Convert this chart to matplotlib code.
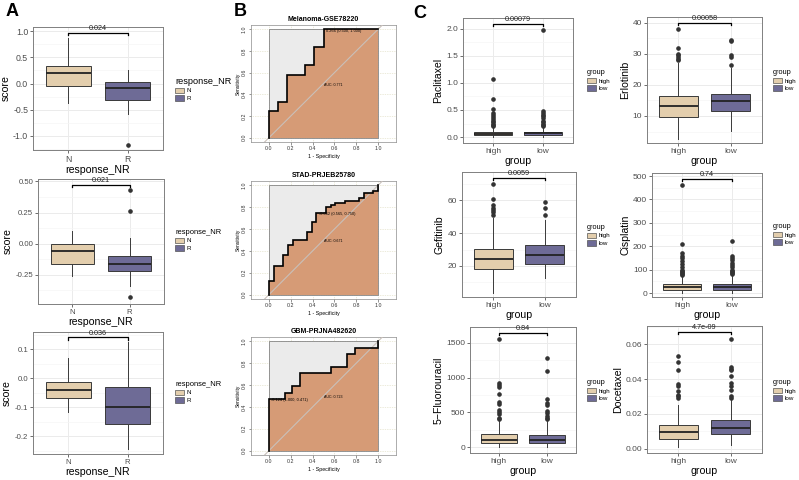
#!/usr/bin/env python3
"""Response score boxplots (A), ROC curves (B) and drug sensitivity boxplots (C)."""

import matplotlib
matplotlib.use("Agg")
import matplotlib.pyplot as plt
from matplotlib.patches import Patch, Polygon
from matplotlib.ticker import AutoMinorLocator, FormatStrFormatter

plt.rcParams['font.family'] = ['Liberation Sans', 'DejaVu Sans']

W, H = 799, 480
COL_1 = '#E3CEAD'   # N / high
COL_2 = '#6E6B96'   # R / low

# ---------------- data: panel A (whislo, q1, med, q3, whishi) ----------------
a_groups = ["N", "R"]
a_legend_title = "response_NR"
a1_N = [-0.38, -0.05, 0.20, 0.33, 0.87]
a1_R = [-0.59, -0.31, -0.08, 0.02, 0.25]
a1_N_out = []
a1_R_out = [-1.17]
a1_p = "0.024"

a2_N = [-0.26, -0.16, -0.06, 0.00, 0.10]
a2_R = [-0.34, -0.215, -0.16, -0.10, 0.05]
a2_N_out = []
a2_R_out = [0.43, 0.26, -0.43]
a2_p = "0.021"

a3_N = [-0.118, -0.07, -0.042, -0.015, 0.068]
a3_R = [-0.245, -0.16, -0.10, -0.03, 0.125]
a3_N_out = []
a3_R_out = []
a3_p = "0.036"

# ---------------- data: panel B (ROC steps, 1 - specificity / sensitivity) ----
b1_title = "Melanoma-GSE78220"
b1_fpr = [0.0, 0.083, 0.167, 0.333, 0.417, 0.5]
b1_tpr = [0.25, 0.333, 0.583, 0.667, 0.833, 1.0]
b1_auc = "AUC: 0.771"
b1_thr = "0.266 (0.500, 1.000)"
b1_thr_pt = (0.5, 1.0)

b2_title = "STAD-PRJEB25780"
b2_fpr = [0.0, 0.043, 0.130, 0.174, 0.217, 0.348, 0.391, 0.435,
          0.522, 0.565, 0.609, 0.696, 0.826, 0.870, 0.957, 1.0]
b2_tpr = [0.125, 0.26, 0.366, 0.45, 0.497, 0.573, 0.665, 0.75,
          0.80, 0.82, 0.84, 0.86, 0.88, 0.93, 0.95, 1.0]
b2_auc = "AUC: 0.671"
b2_thr = "-0.062 (0.565, 0.750)"
b2_thr_pt = (0.435, 0.75)

b3_title = "GBM-PRJNA482620"
b3_fpr = [0.0, 0.143, 0.214, 0.286, 0.571, 0.714, 0.786, 1.0]
b3_tpr = [0.471, 0.529, 0.588, 0.706, 0.765, 0.882, 0.941, 1.0]
b3_auc = "AUC: 0.723"
b3_thr = "-0.124 (1.000, 0.471)"
b3_thr_pt = (0.0, 0.471)

roc_ticks = [0.0, 0.2, 0.4, 0.6, 0.8, 1.0]

# ---------------- data: panel C (whislo, q1, med, q3, whishi) ----------------
c_groups = ["high", "low"]
c_legend_title = "group"

paclitaxel_high = [0.0, 0.03, 0.06, 0.10, 0.20]
paclitaxel_low = [0.0, 0.04, 0.07, 0.10, 0.18]
paclitaxel_high_out = [1.08, 0.71, 0.52, 0.45, 0.40, 0.37, 0.33, 0.30, 0.27, 0.25, 0.23, 0.21]
paclitaxel_low_out = [1.98, 0.48, 0.44, 0.40, 0.38, 0.35, 0.30, 0.27, 0.25, 0.22, 0.20]
paclitaxel_p = "0.00079"

erlotinib_high = [2.5, 9.6, 13.3, 16.6, 27.0]
erlotinib_low = [5.3, 11.5, 14.7, 17.2, 25.5]
erlotinib_high_out = [38.0, 31.8, 30.0, 29.5, 29.0, 28.5, 28.0]
erlotinib_low_out = [34.6, 34.2, 29.5, 29.0, 26.3]
erlotinib_p = "0.00058"

gefitinib_high = [3.5, 18.0, 24.5, 30.5, 49.0]
gefitinib_low = [13.0, 21.5, 26.5, 33.0, 48.0]
gefitinib_high_out = [70.0, 60.5, 57.0, 55.0, 54.0, 53.0, 51.0]
gefitinib_low_out = [59.0, 55.0, 51.0]
gefitinib_p = "0.0059"

cisplatin_high = [0.0, 14.0, 24.0, 38.0, 72.0]
cisplatin_low = [0.0, 14.0, 26.0, 38.0, 72.0]
cisplatin_high_out = [462, 210, 170, 160, 150, 135, 125, 110, 100, 95, 90, 85, 80, 75]
cisplatin_low_out = [222, 160, 150, 140, 130, 120, 110, 100, 95, 90, 85, 80]
cisplatin_p = "0.74"

fluorouracil_high = [0.0, 55.0, 100.0, 185.0, 390.0]
fluorouracil_low = [0.0, 55.0, 95.0, 170.0, 370.0]
fluorouracil_high_out = [1560, 920, 900, 870, 770, 650, 620, 530, 500, 470, 420, 400]
fluorouracil_low_out = [1280, 1100, 690, 640, 600, 520, 490, 450, 420, 400]
fluorouracil_p = "0.84"

docetaxel_high = [0.001, 0.0055, 0.0095, 0.0135, 0.025]
docetaxel_low = [0.0025, 0.0085, 0.0122, 0.0165, 0.028]
docetaxel_high_out = [0.053, 0.050, 0.045, 0.037, 0.036, 0.033, 0.031, 0.030, 0.029]
docetaxel_low_out = [0.063, 0.047, 0.046, 0.045, 0.042, 0.038, 0.036, 0.034, 0.030, 0.029]
docetaxel_p = "4.7e-09"


def rect(l, t, r, b):
    """pixel box -> figure fraction rect"""
    return [l / W, 1 - b / H, (r - l) / W, (b - t) / H]


def box_stats(five, out):
    return dict(whislo=five[0], q1=five[1], med=five[2], q3=five[3],
                whishi=five[4], fliers=out)


def gg_box(fig, box, stats, groups, ylim, yticks, fmt, xlabel, ylabel, pval,
           leg_title, leg_xy, leg_title_fs=5.3, tick_fs=6.0, title_fs=7.6):
    """ggplot theme_bw looking boxplot with a compare-means bracket"""
    ax = fig.add_axes(rect(*box))
    b = ax.bxp(stats, positions=[1, 2], widths=0.75, patch_artist=True,
               showcaps=False, manage_ticks=False, zorder=3,
               boxprops=dict(edgecolor='#3a3a3a', linewidth=0.7),
               whiskerprops=dict(color='#3a3a3a', linewidth=0.7),
               medianprops=dict(color='#222222', linewidth=1.3),
               flierprops=dict(marker='o', markersize=2.3,
                               markerfacecolor='#333333',
                               markeredgecolor='#333333'))
    for patch, c in zip(b['boxes'], [COL_1, COL_2]):
        patch.set_facecolor(c)
    ax.set_xlim(0.4, 2.6)
    ax.set_ylim(*ylim)
    ax.set_xticks([1, 2], groups)
    ax.set_yticks(yticks)
    ax.yaxis.set_major_formatter(FormatStrFormatter(fmt))
    ax.yaxis.set_minor_locator(AutoMinorLocator(2))
    ax.grid(True, which='major', color='#EBEBEB', lw=0.7)
    ax.grid(True, which='minor', axis='y', color='#F5F5F5', lw=0.5)
    ax.set_axisbelow(True)
    ax.tick_params(which='major', length=2, width=0.5, color='#333333',
                   labelsize=tick_fs, labelcolor='#4D4D4D', pad=1.5)
    ax.tick_params(which='minor', length=0)
    for s in ax.spines.values():
        s.set_color('#808080')
        s.set_linewidth(0.7)
    ax.set_xlabel(xlabel, fontsize=title_fs, labelpad=1)
    ax.set_ylabel(ylabel, fontsize=title_fs, labelpad=2)

    # bracket + p value
    yr = ylim[1] - ylim[0]
    yb = ylim[1] - 0.045 * yr
    ax.plot([1, 1, 2, 2], [yb - 0.02 * yr, yb, yb, yb - 0.02 * yr],
            color='black', lw=0.9, zorder=5, clip_on=False)
    ax.text(1.5, yb + 0.003 * yr, pval, ha='center', va='bottom',
            fontsize=5.2, color='#222222', zorder=5)

    handles = [Patch(facecolor=COL_1, edgecolor='#555555', lw=0.5, label=groups[0]),
               Patch(facecolor=COL_2, edgecolor='#555555', lw=0.5, label=groups[1])]
    ax.legend(handles=handles, title=leg_title, loc='center left',
              bbox_to_anchor=(leg_xy[0] / W, 1 - leg_xy[1] / H),
              bbox_transform=fig.transFigure, frameon=False, fontsize=4.5,
              title_fontproperties={'size': leg_title_fs}, handlelength=1.4,
              handleheight=0.9, handletextpad=0.5, labelspacing=0.3,
              borderpad=0, borderaxespad=0, alignment='left')
    return ax


def roc_panel(fig, box, fpr, tpr, title, auc_txt, thr_txt, thr_pt):
    """pROC style plot with AUC polygons"""
    ax = fig.add_axes(rect(*box))
    ax.set_xlim(-0.165, 1.165)
    ax.set_ylim(-0.04, 1.04)
    for t in roc_ticks:
        ax.axhline(t, color='#D9D6B5', lw=0.5, ls=(0, (1, 1.5)), zorder=0)
        ax.axvline(t, color='#D9D6B5', lw=0.5, ls=(0, (1, 1.5)), zorder=0)
    # max auc polygon
    ax.add_patch(Polygon([(0, 0), (0, 1), (1, 1), (1, 0)], closed=True,
                         fc='#EBEBEB', ec='#6f6f6f', lw=0.5, zorder=1))
    xs, ys = [0.0], [0.0]
    for x, y in zip(fpr, tpr):
        xs += [x, x]
        ys += [ys[-1], y]
    xs.append(1.0)
    ys.append(1.0)
    ax.add_patch(Polygon(list(zip(xs, ys)) + [(1.0, 0.0)], closed=True,
                         fc='#D69B76', ec='none', zorder=2))
    ax.plot([-0.3, 1.3], [-0.3, 1.3], color='#C9C0BA', lw=0.8, zorder=3)
    ax.plot(xs, ys, color='black', lw=1.2, zorder=4, solid_joinstyle='miter')
    ax.text(0.5, 0.49, auc_txt, fontsize=2.6, ha='left', va='center', zorder=5)
    ax.text(thr_pt[0] + 0.02, thr_pt[1] - 0.012, thr_txt, fontsize=2.8,
            ha='left', va='center', zorder=5)

    ax.set_xticks(roc_ticks, ['%.1f' % t for t in roc_ticks])
    ax.set_yticks(roc_ticks, ['%.1f' % t for t in roc_ticks])
    ax.tick_params(length=1.8, width=0.4, labelsize=3.8, pad=1.2,
                   color='#444444', labelcolor='#333333')
    for lab in ax.get_yticklabels():
        lab.set_rotation(90)
        lab.set_va('center')
    for s in ax.spines.values():
        s.set_color('#8c8c8c')
        s.set_linewidth(0.5)
    ax.set_title(title, fontsize=5, fontweight='bold', pad=3)
    ax.set_xlabel('1 - Specificity', fontsize=3.8, labelpad=2)
    ax.set_ylabel('Sensitivity', fontsize=3.5, labelpad=0.8)
    return ax


def main():
    fig = plt.figure(figsize=(W / 100, H / 100), dpi=100)

    # panel letters
    for lab, x, y in [('A', 12, 12), ('B', 240, 12), ('C', 420, 13)]:
        fig.text(x / W, 1 - y / H, lab, fontsize=13, fontweight='bold',
                 ha='center', va='center')

    # ---- A ----
    gg_box(fig, (33, 27, 163, 150),
           [box_stats(a1_N, a1_N_out), box_stats(a1_R, a1_R_out)], a_groups,
           (-1.27, 1.08), [-1.0, -0.5, 0.0, 0.5, 1.0], '%.1f',
           'response_NR', 'score', a1_p, a_legend_title, (175, 89),
           leg_title_fs=6.6, tick_fs=6.3)
    gg_box(fig, (38, 179, 164, 304),
           [box_stats(a2_N, a2_N_out), box_stats(a2_R, a2_R_out)], a_groups,
           (-0.484, 0.52), [-0.25, 0.0, 0.25, 0.5], '%.2f',
           'response_NR', 'score', a2_p, a_legend_title, (175, 240),
           leg_title_fs=5.4, tick_fs=5.6)
    gg_box(fig, (33, 332, 163, 454),
           [box_stats(a3_N, a3_N_out), box_stats(a3_R, a3_R_out)], a_groups,
           (-0.262, 0.159), [-0.2, -0.1, 0.0, 0.1], '%.1f',
           'response_NR', 'score', a3_p, a_legend_title, (175, 392),
           leg_title_fs=5.4, tick_fs=5.6)

    # ---- B ----
    roc_panel(fig, (251, 25, 396, 142), b1_fpr, b1_tpr, b1_title, b1_auc, b1_thr, b1_thr_pt)
    roc_panel(fig, (251, 181, 396, 299), b2_fpr, b2_tpr, b2_title, b2_auc, b2_thr, b2_thr_pt)
    roc_panel(fig, (251, 337, 396, 455), b3_fpr, b3_tpr, b3_title, b3_auc, b3_thr, b3_thr_pt)

    # ---- C ----
    gg_box(fig, (463, 18, 573, 143),
           [box_stats(paclitaxel_high, paclitaxel_high_out),
            box_stats(paclitaxel_low, paclitaxel_low_out)], c_groups,
           (-0.11, 2.2), [0.0, 0.5, 1.0, 1.5, 2.0], '%.1f',
           'group', 'Paclitaxel', paclitaxel_p, c_legend_title, (587, 80))
    gg_box(fig, (647, 17, 762, 143),
           [box_stats(erlotinib_high, erlotinib_high_out),
            box_stats(erlotinib_low, erlotinib_low_out)], c_groups,
           (1.3, 41.9), [10, 20, 30, 40], '%d',
           'group', 'Erlotinib', erlotinib_p, c_legend_title, (773, 80))
    gg_box(fig, (462, 172, 576, 297),
           [box_stats(gefitinib_high, gefitinib_high_out),
            box_stats(gefitinib_low, gefitinib_low_out)], c_groups,
           (1.2, 77.0), [20, 40, 60], '%d',
           'group', 'Gefitinib', gefitinib_p, c_legend_title, (587, 235))
    gg_box(fig, (652, 173, 762, 297),
           [box_stats(cisplatin_high, cisplatin_high_out),
            box_stats(cisplatin_low, cisplatin_low_out)], c_groups,
           (-17, 513), [0, 100, 200, 300, 400, 500], '%d',
           'group', 'Cisplatin', cisplatin_p, c_legend_title, (773, 234))
    gg_box(fig, (470, 327, 576, 453),
           [box_stats(fluorouracil_high, fluorouracil_high_out),
            box_stats(fluorouracil_low, fluorouracil_low_out)], c_groups,
           (-86, 1730), [0, 500, 1000, 1500], '%d',
           'group', '5\u2212Fluorouracil', fluorouracil_p, c_legend_title, (587, 390))
    gg_box(fig, (647, 326, 762, 453),
           [box_stats(docetaxel_high, docetaxel_high_out),
            box_stats(docetaxel_low, docetaxel_low_out)], c_groups,
           (-0.0023, 0.0703), [0.0, 0.02, 0.04, 0.06], '%.2f',
           'group', 'Docetaxel', docetaxel_p, c_legend_title, (773, 390))

    fig.savefig('out.png', dpi=100)
    return 0


if __name__ == "__main__":
    main()
